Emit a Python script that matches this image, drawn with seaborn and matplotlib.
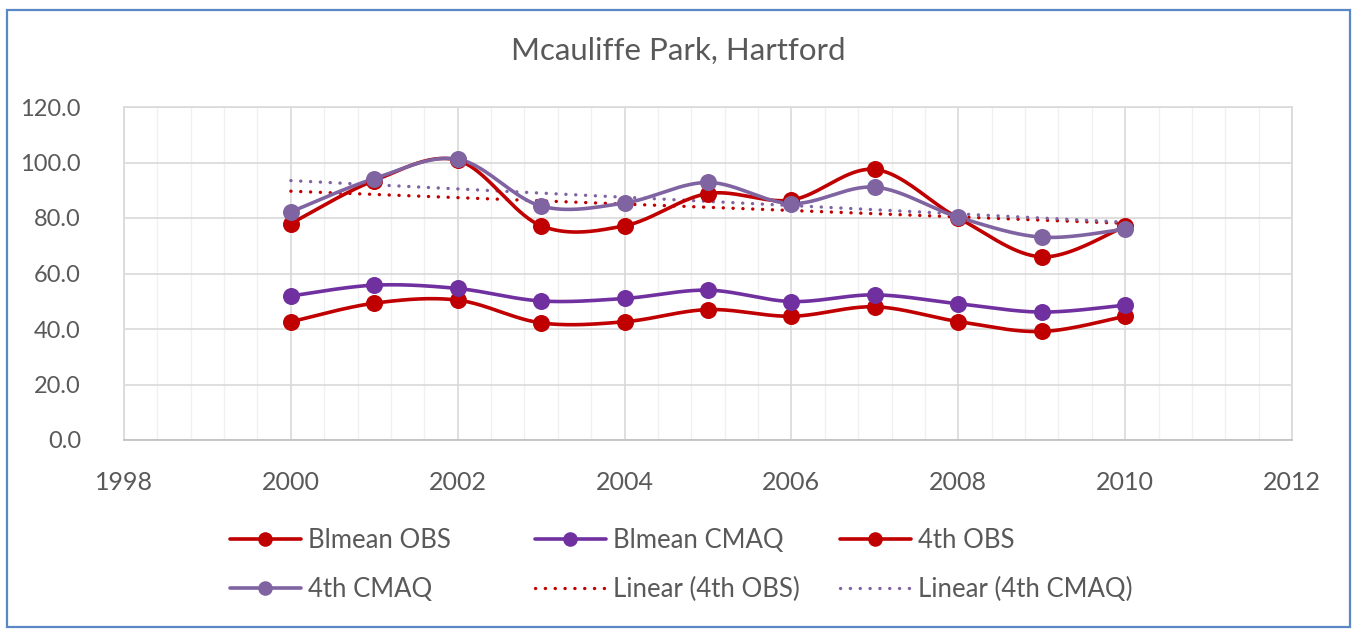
import numpy as np
import pandas as pd
import matplotlib
matplotlib.use("Agg")
import matplotlib.pyplot as plt
from matplotlib.lines import Line2D
from matplotlib.patches import Rectangle
from matplotlib.ticker import MultipleLocator, FormatStrFormatter
import seaborn as sns

# ---- data -------------------------------------------------------------
years = [2000, 2001, 2002, 2003, 2004, 2005, 2006, 2007, 2008, 2009, 2010]
blmean_obs = [42.6, 49.3, 50.4, 42.2, 42.6, 47.0, 44.6, 48.0, 42.7, 39.1, 44.6]
blmean_cmaq = [51.9, 55.8, 54.6, 50.1, 51.0, 54.0, 49.9, 52.3, 49.1, 46.1, 48.6]
fourth_obs = [78.0, 93.5, 100.8, 77.2, 77.2, 88.8, 86.5, 97.5, 80.0, 66.0, 77.0]
fourth_cmaq = [82.2, 94.2, 101.2, 84.3, 85.4, 92.8, 85.2, 91.1, 80.3, 73.1, 76.0]

title = "Mcauliffe Park, Hartford"
RED = "#C00000"
PURPLE = "#7030A0"
LAVENDER = "#8064A2"
TXT = "#595959"

sns.set_theme(style="white")
plt.rcParams["font.family"] = ["Lato", "DejaVu Sans"]


def smooth(x, y, n=40):
    """Bezier smoothing through the points (spreadsheet-style smoothed line)."""
    x = np.asarray(x, float)
    y = np.asarray(y, float)
    px = np.concatenate([[x[0]], x, [x[-1]]])
    py = np.concatenate([[y[0]], y, [y[-1]]])
    xs, ys = [], []
    t = np.linspace(0, 1, n)
    for i in range(1, len(px) - 2):
        p0 = np.array([px[i], py[i]])
        p3 = np.array([px[i + 1], py[i + 1]])
        c1 = p0 + (p3 - np.array([px[i - 1], py[i - 1]])) / 6.0
        c2 = p3 - (np.array([px[i + 2], py[i + 2]]) - p0) / 6.0
        b = ((1 - t) ** 3)[:, None] * p0 + (3 * (1 - t) ** 2 * t)[:, None] * c1 \
            + (3 * (1 - t) * t ** 2)[:, None] * c2 + (t ** 3)[:, None] * p3
        xs.append(b[:, 0] if i == 1 else b[1:, 0])
        ys.append(b[:, 1] if i == 1 else b[1:, 1])
    return np.concatenate(xs), np.concatenate(ys)


fig = plt.figure(figsize=(13.54, 6.31), dpi=100)
ax = fig.add_axes([124 / 1354, 1 - 440 / 631, (1292 - 124) / 1354, (440 - 107) / 631])

# outer chart frame
fig.patches.append(Rectangle((7 / 1354, 1 - 627 / 631), (1350 - 7) / 1354, (627 - 10) / 631,
                             transform=fig.transFigure, fill=False,
                             edgecolor="#5A87C5", linewidth=1.6, zorder=0))

series = [
    ("Blmean OBS", blmean_obs, RED),
    ("Blmean CMAQ", blmean_cmaq, PURPLE),
    ("4th OBS", fourth_obs, RED),
    ("4th CMAQ", fourth_cmaq, LAVENDER),
]

DOTS = (0, (0.05, 2.9))

# linear trend lines of the 4th-highest series
yr = np.asarray(years, float)
for vals, col in [(fourth_obs, RED), (fourth_cmaq, LAVENDER)]:
    k, b0 = np.polyfit(yr, vals, 1)
    tx = np.linspace(yr[0], yr[-1], 50)
    sns.lineplot(x=tx, y=k * tx + b0, ax=ax, color=col, linewidth=2.4,
                 linestyle=DOTS, dash_capstyle="round", zorder=3,
                 estimator=None, sort=False)

for name, vals, col in series:
    sx, sy = smooth(years, vals)
    df = pd.DataFrame({"x": sx, "y": sy})
    sns.lineplot(data=df, x="x", y="y", ax=ax, color=col, linewidth=2.6,
                 estimator=None, sort=False, zorder=4)
    sns.scatterplot(x=years, y=vals, ax=ax, color=col, s=150, edgecolor=col,
                    linewidth=0, zorder=5)

ax.set_xlim(1998, 2012)
ax.set_ylim(0, 120)
ax.xaxis.set_major_locator(MultipleLocator(2))
ax.xaxis.set_minor_locator(MultipleLocator(0.4))
ax.yaxis.set_major_locator(MultipleLocator(20))
ax.yaxis.set_major_formatter(FormatStrFormatter("%.1f"))
ax.grid(True, which="major", axis="both", color="#D9D9D9", linewidth=1.2, zorder=0)
ax.grid(True, which="minor", axis="x", color="#F0F0F0", linewidth=1.0, zorder=0)
ax.set_axisbelow(True)
for s in ["top", "right", "left"]:
    ax.spines[s].set_color("#D9D9D9")
    ax.spines[s].set_linewidth(1.2)
ax.spines["bottom"].set_color("#BFBFBF")
ax.spines["bottom"].set_linewidth(1.2)
ax.tick_params(axis="both", which="both", length=0, labelcolor=TXT)
ax.tick_params(axis="x", labelsize=18, pad=22)
ax.tick_params(axis="y", labelsize=17, pad=31)
ax.set_xlabel("")
ax.set_ylabel("")

fig.text(678 / 1354, 1 - 51 / 631, title, ha="center", va="center",
         fontsize=22.5, color=TXT)


def h_marker(col):
    return Line2D([], [], color=col, linewidth=2.6, marker="o", markersize=10.5,
                  markeredgewidth=0)


def h_dot(col):
    return Line2D([], [], color=col, linewidth=2.4, linestyle=DOTS,
                  dash_capstyle="round")


# legend laid out as three equal-width columns, two rows each
columns = [
    (230, [("Blmean OBS", h_marker(RED)), ("4th CMAQ", h_marker(LAVENDER))]),
    (535, [("Blmean CMAQ", h_marker(PURPLE)), ("Linear (4th OBS)", h_dot(RED))]),
    (840, [("4th OBS", h_marker(RED)), ("Linear (4th CMAQ)", h_dot(LAVENDER))]),
]
for x0, entries in columns:
    leg = fig.legend([h for _, h in entries], [l for l, _ in entries],
                     loc="center left", bbox_to_anchor=(x0 / 1354, 1 - 565 / 631),
                     borderaxespad=0, borderpad=0, frameon=False, fontsize=18.5,
                     handlelength=2.75, handletextpad=0.3, labelspacing=0.9)
    for t in leg.get_texts():
        t.set_color(TXT)

fig.savefig("out.png", dpi=100, facecolor="white")
